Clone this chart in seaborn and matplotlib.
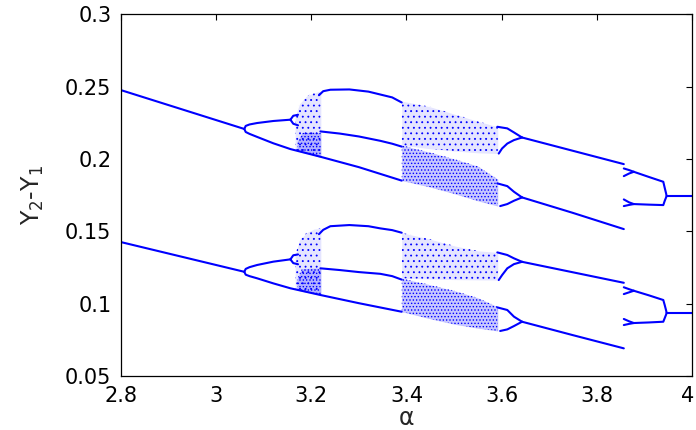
import pandas as pd
import seaborn as sns
import matplotlib
matplotlib.use('Agg')
import matplotlib.pyplot as plt
import matplotlib.transforms as mtransforms

# periodic branches: (alpha, Y2-Y1)
# upper family
up_main = ([2.800, 3.059], [0.2475, 0.2207])
up_p2_hi = ([3.059, 3.062, 3.070, 3.086, 3.120, 3.156], [0.2207, 0.2228, 0.2238, 0.2248, 0.2262, 0.2271])
up_p2_lo = ([3.059, 3.062, 3.070, 3.086, 3.120, 3.156, 3.219, 3.300, 3.390],
            [0.2207, 0.2186, 0.2173, 0.2152, 0.2108, 0.2068, 0.2015, 0.1943, 0.1850])
up_p4_a = ([3.156, 3.162, 3.172], [0.2271, 0.2298, 0.2305])
up_p4_b = ([3.156, 3.162, 3.172], [0.2271, 0.2243, 0.2232])
up_top = ([3.216, 3.225, 3.240, 3.280, 3.320, 3.345, 3.370, 3.390], [0.2440, 0.2468, 0.2478, 0.2480, 0.2465, 0.2445, 0.2425, 0.2390])
up_mid = ([3.219, 3.260, 3.300, 3.345, 3.370, 3.390], [0.2190, 0.2175, 0.2155, 0.2125, 0.2105, 0.2085])
up_f1_hi = ([3.591, 3.612, 3.626, 3.643], [0.2222, 0.2211, 0.2183, 0.2148])
up_f1_lo = ([3.594, 3.601, 3.612, 3.626, 3.643], [0.2037, 0.2072, 0.2106, 0.2130, 0.2148])
up_p1_a = ([3.643, 3.857], [0.2148, 0.1964])
up_f2_hi = ([3.591, 3.612, 3.626, 3.643], [0.1831, 0.1812, 0.1773, 0.1734])
up_f2_lo = ([3.597, 3.612, 3.626, 3.643], [0.1674, 0.1688, 0.1711, 0.1734])
up_p1_b = ([3.643, 3.749, 3.857], [0.1734, 0.1628, 0.1515])
up_g1_hi = ([3.857, 3.868, 3.878], [0.1934, 0.1923, 0.1911])
up_g1_lo = ([3.857, 3.868, 3.878], [0.1881, 0.1899, 0.1911])
up_g1 = ([3.878, 3.910, 3.940, 3.943, 3.946, 3.947], [0.1911, 0.1875, 0.1842, 0.1800, 0.1760, 0.1743])
up_g2_hi = ([3.857, 3.868, 3.878], [0.1720, 0.1700, 0.1688])
up_g2_lo = ([3.857, 3.868, 3.878], [0.1674, 0.1682, 0.1688])
up_g2 = ([3.878, 3.910, 3.940, 3.943, 3.946, 3.947], [0.1688, 0.1684, 0.1681, 0.1710, 0.1735, 0.1743])
up_end = ([3.947, 4.000], [0.1743, 0.1743])

# lower family
lo_main = ([2.800, 3.059], [0.1425, 0.1220])
lo_p2_hi = ([3.059, 3.062, 3.070, 3.086, 3.120, 3.156], [0.1220, 0.1240, 0.1252, 0.1267, 0.1290, 0.1306])
lo_p2_lo = ([3.059, 3.062, 3.070, 3.086, 3.120, 3.156, 3.220, 3.300, 3.390],
            [0.1220, 0.1200, 0.1190, 0.1175, 0.1140, 0.1106, 0.1059, 0.1003, 0.0944])
lo_p4_a = ([3.156, 3.162, 3.172], [0.1306, 0.1334, 0.1340])
lo_p4_b = ([3.156, 3.162, 3.172], [0.1306, 0.1280, 0.1272])
lo_top = ([3.216, 3.225, 3.240, 3.280, 3.320, 3.345, 3.370, 3.390], [0.1480, 0.1510, 0.1535, 0.1543, 0.1535, 0.1520, 0.1508, 0.1490])
lo_mid = ([3.219, 3.260, 3.300, 3.345, 3.370, 3.390], [0.1244, 0.1232, 0.1218, 0.1206, 0.1190, 0.1166])
lo_f1_hi = ([3.591, 3.612, 3.626, 3.643], [0.1354, 0.1336, 0.1313, 0.1289])
lo_f1_lo = ([3.594, 3.601, 3.612, 3.626, 3.643], [0.1163, 0.1197, 0.1244, 0.1273, 0.1289])
lo_p1_a = ([3.643, 3.857], [0.1289, 0.1144])
lo_f2_hi = ([3.591, 3.612, 3.626, 3.643], [0.0974, 0.0956, 0.0910, 0.0875])
lo_f2_lo = ([3.597, 3.612, 3.626, 3.643], [0.0811, 0.0822, 0.0845, 0.0875])
lo_p1_b = ([3.643, 3.749, 3.857], [0.0875, 0.0783, 0.0691])
lo_g1_hi = ([3.857, 3.868, 3.878], [0.1113, 0.1100, 0.1089])
lo_g1_lo = ([3.857, 3.868, 3.878], [0.1066, 0.1078, 0.1089])
lo_g1 = ([3.878, 3.910, 3.940, 3.943, 3.946, 3.947], [0.1089, 0.1057, 0.1025, 0.0990, 0.0952, 0.0937])
lo_g2_hi = ([3.857, 3.868, 3.878], [0.0894, 0.0878, 0.0866])
lo_g2_lo = ([3.857, 3.868, 3.878], [0.0852, 0.0860, 0.0866])
lo_g2 = ([3.878, 3.910, 3.940, 3.943, 3.946, 3.947], [0.0866, 0.0870, 0.0875, 0.0900, 0.0925, 0.0937])
lo_end = ([3.947, 4.000], [0.0937, 0.0937])

branches = [up_main, up_p2_hi, up_p2_lo, up_p4_a, up_p4_b, up_top, up_mid, up_f1_hi, up_f1_lo,
            up_p1_a, up_f2_hi, up_f2_lo, up_p1_b, up_g1_hi, up_g1_lo, up_g1, up_g2_hi, up_g2_lo,
            up_g2, up_end,
            lo_main, lo_p2_hi, lo_p2_lo, lo_p4_a, lo_p4_b, lo_top, lo_mid, lo_f1_hi, lo_f1_lo,
            lo_p1_a, lo_f2_hi, lo_f2_lo, lo_p1_b, lo_g1_hi, lo_g1_lo, lo_g1, lo_g2_hi, lo_g2_lo,
            lo_g2, lo_end]

# chaotic bands: alpha, upper edge, lower edge
ch1_a = [3.166, 3.175, 3.190, 3.205, 3.220]
up_ch1_top = [0.2290, 0.2380, 0.2435, 0.2455, 0.2470]
up_ch1_bot = [0.2060, 0.2050, 0.2040, 0.2025, 0.2010]
lo_ch1_top = [0.1330, 0.1440, 0.1490, 0.1515, 0.1520]
lo_ch1_bot = [0.1100, 0.1090, 0.1080, 0.1068, 0.1058]
ch1d_a = [3.170, 3.180, 3.200, 3.220]
up_ch1d_top = [0.2120, 0.2180, 0.2185, 0.2180]
up_ch1d_bot = [0.2055, 0.2045, 0.2030, 0.2010]
lo_ch1d_top = [0.1170, 0.1240, 0.1245, 0.1245]
lo_ch1d_bot = [0.1095, 0.1085, 0.1072, 0.1058]

ch2_a = [3.390, 3.450, 3.500, 3.550, 3.592]
up_ch2s_top = [0.2400, 0.2360, 0.2310, 0.2260, 0.2222]
up_ch2s_bot = [0.2095, 0.2070, 0.2055, 0.2042, 0.2037]
up_ch2d_top = [0.2095, 0.2045, 0.2000, 0.1950, 0.1860]
up_ch2d_bot = [0.1850, 0.1805, 0.1760, 0.1710, 0.1674]
lo_ch2s_top = [0.1490, 0.1445, 0.1400, 0.1365, 0.1354]
lo_ch2s_bot = [0.1175, 0.1170, 0.1166, 0.1164, 0.1163]
lo_ch2d_top = [0.1175, 0.1130, 0.1090, 0.1040, 0.0978]
lo_ch2d_bot = [0.0944, 0.0895, 0.0858, 0.0830, 0.0811]

rows = []
for k, (xs, ys) in enumerate(branches):
    for x, y in zip(xs, ys):
        rows.append({'alpha': x, 'dy': y, 'seg': k})
df = pd.DataFrame(rows)

sns.set_style('white')
plt.rcParams['font.family'] = ['DejaVu Sans']
plt.rcParams['hatch.color'] = 'blue'
plt.rcParams['hatch.linewidth'] = 0.6

fig = plt.figure(figsize=(6.96, 4.30), dpi=100)
ax = fig.add_axes([0.174, 0.1256, 0.820, 0.8414])

blue = '#0000ff'
sparse = [(ch1_a, up_ch1_top, up_ch1_bot), (ch1_a, lo_ch1_top, lo_ch1_bot),
          (ch2_a, up_ch2s_top, up_ch2s_bot), (ch2_a, lo_ch2s_top, lo_ch2s_bot)]
dense = [(ch1d_a, up_ch1d_top, up_ch1d_bot), (ch1d_a, lo_ch1d_top, lo_ch1d_bot),
         (ch2_a, up_ch2d_top, up_ch2d_bot), (ch2_a, lo_ch2d_top, lo_ch2d_bot)]
for xs, t, b in sparse:
    ax.fill_between(xs, b, t, facecolor=blue, alpha=0.10, linewidth=0)
    ax.fill_between(xs, b, t, facecolor='none', edgecolor=blue, hatch='...', linewidth=0)
for xs, t, b in dense:
    ax.fill_between(xs, b, t, facecolor=blue, alpha=0.22, linewidth=0)
    ax.fill_between(xs, b, t, facecolor='none', edgecolor=blue, hatch='.....', linewidth=0)

sns.lineplot(data=df, x='alpha', y='dy', units='seg', estimator=None, sort=False,
             color=blue, linewidth=1.5, legend=False, ax=ax)

ax.set_xlim(2.8, 4.0)
ax.set_ylim(0.05, 0.3)
ax.set_xticks([2.8, 3.0, 3.2, 3.4, 3.6, 3.8, 4.0])
ax.set_xticklabels(['2.8', '3', '3.2', '3.4', '3.6', '3.8', '4'])
ax.set_yticks([0.05, 0.1, 0.15, 0.2, 0.25, 0.3])
ax.set_yticklabels(['0.05', '0.1', '0.15', '0.2', '0.25', '0.3'])
ax.tick_params(direction='in', length=4, width=0.8, top=True, right=True,
               labelsize=15, pad=7, colors='black')
for s in ax.spines.values():
    s.set_visible(True)
    s.set_color('black')
    s.set_linewidth(0.9)
ax.set_xlabel('α', fontsize=17, labelpad=0)
ax.set_ylabel(r'Y$_2$-Y$_1$', fontsize=17, labelpad=14)

# keep the last x label inside the figure
last = ax.get_xticklabels()[-1]
last.set_transform(last.get_transform() + mtransforms.ScaledTranslation(-4 / 100, 0, fig.dpi_scale_trans))

fig.savefig('out.png', dpi=100)
